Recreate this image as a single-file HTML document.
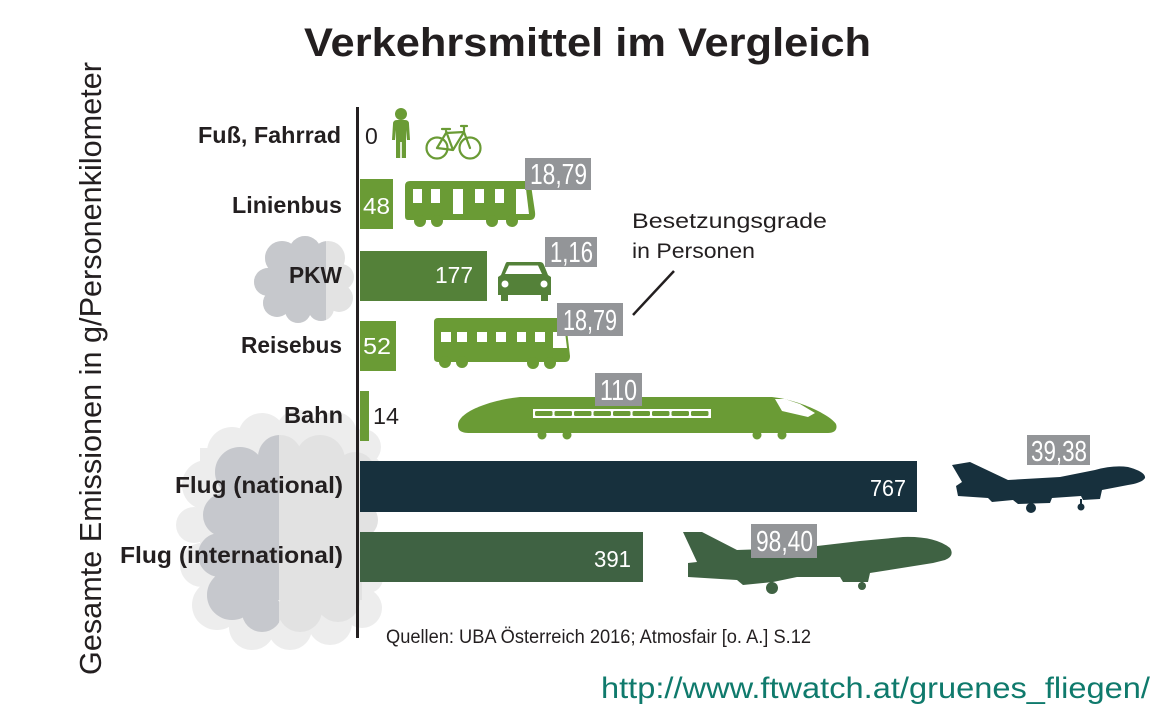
<!DOCTYPE html>
<html><head><meta charset="utf-8">
<style>html,body{margin:0;padding:0;background:#fff;}svg{display:block;}</style></head>
<body>
<svg width="1173" height="723" viewBox="0 0 1173 723" xmlns="http://www.w3.org/2000/svg" font-family="'Liberation Sans', sans-serif">
<defs>
<clipPath id="cA"><rect x="0" y="0" width="326" height="400"/></clipPath>
<clipPath id="cB"><rect x="0" y="400" width="279" height="323"/></clipPath>
<g id="pkwcloud">
<circle cx="282" cy="258" r="17"/><circle cx="305" cy="252" r="16"/><circle cx="328" cy="258" r="17"/>
<circle cx="341" cy="277" r="13"/><circle cx="339" cy="298" r="14"/><circle cx="321" cy="308" r="13"/>
<circle cx="298" cy="310" r="13"/><circle cx="277" cy="303" r="14"/><circle cx="268" cy="282" r="14"/>
<circle cx="305" cy="282" r="30"/>
</g>
<g id="inner">
<circle cx="240" cy="472" r="25"/><circle cx="280" cy="457" r="22"/><circle cx="320" cy="460" r="25"/>
<circle cx="355" cy="472" r="20"/><circle cx="225" cy="515" r="22"/><circle cx="220" cy="555" r="22"/>
<circle cx="232" cy="595" r="25"/><circle cx="262" cy="612" r="20"/><circle cx="300" cy="610" r="22"/>
<circle cx="338" cy="600" r="22"/><circle cx="360" cy="560" r="20"/><circle cx="360" cy="520" r="18"/>
<rect x="222" y="470" width="140" height="130"/>
</g>
</defs>

<!-- clouds -->
<use href="#pkwcloud" fill="#e3e3e3"/>
<use href="#pkwcloud" fill="#c6c8cc" clip-path="url(#cA)"/>

<g fill="#ededed">
<circle cx="232" cy="452" r="25"/><circle cx="262" cy="437" r="24"/><circle cx="298" cy="432" r="22"/>
<circle cx="335" cy="434" r="22"/><circle cx="363" cy="447" r="18"/><circle cx="207" cy="485" r="25"/>
<circle cx="194" cy="525" r="18"/><circle cx="202" cy="565" r="22"/><circle cx="217" cy="605" r="25"/>
<circle cx="252" cy="627" r="23"/><circle cx="290" cy="628" r="22"/><circle cx="330" cy="623" r="22"/>
<circle cx="362" cy="608" r="20"/><circle cx="368" cy="578" r="15"/><circle cx="367" cy="470" r="15"/>
<rect x="200" y="448" width="172" height="170"/>
</g>
<use href="#inner" fill="#e2e2e2"/>
<use href="#inner" fill="#c6c8cd" clip-path="url(#cB)"/>

<!-- title -->
<text x="304" y="56" font-size="40" font-weight="bold" fill="#231f20" textLength="567" lengthAdjust="spacingAndGlyphs">Verkehrsmittel im Vergleich</text>

<!-- y axis label -->
<text transform="translate(101,368.5) rotate(-90)" text-anchor="middle" font-size="31" fill="#231f20" textLength="613" lengthAdjust="spacingAndGlyphs">Gesamte Emissionen in g/Personenkilometer</text>

<!-- category labels -->
<g font-size="23" font-weight="bold" fill="#231f20">
<text x="198" y="143" textLength="143" lengthAdjust="spacingAndGlyphs">Fuß, Fahrrad</text>
<text x="232" y="213" textLength="110" lengthAdjust="spacingAndGlyphs">Linienbus</text>
<text x="289" y="283" textLength="53" lengthAdjust="spacingAndGlyphs">PKW</text>
<text x="241" y="353" textLength="101" lengthAdjust="spacingAndGlyphs">Reisebus</text>
<text x="284" y="423" textLength="59" lengthAdjust="spacingAndGlyphs">Bahn</text>
<text x="175" y="493" textLength="168" lengthAdjust="spacingAndGlyphs">Flug (national)</text>
<text x="120" y="563" textLength="223" lengthAdjust="spacingAndGlyphs">Flug (international)</text>
</g>

<!-- axis -->
<rect x="356" y="107" width="3" height="531" fill="#231f20"/>

<!-- bars -->
<rect x="360" y="179" width="33" height="50" fill="#6a9b35"/>
<rect x="360" y="251" width="127" height="50" fill="#548139"/>
<rect x="360" y="321" width="36" height="50" fill="#6a9b35"/>
<rect x="360" y="391" width="9" height="50" fill="#6a9b35"/>
<rect x="360" y="461" width="557" height="51" fill="#17303d"/>
<rect x="360" y="532" width="283" height="50" fill="#3f6243"/>

<!-- values -->
<g font-size="23">
<text x="365" y="144" fill="#231f20">0</text>
<text x="363" y="214" fill="#fff" textLength="27" lengthAdjust="spacingAndGlyphs">48</text>
<text x="435" y="283" fill="#fff" textLength="38" lengthAdjust="spacingAndGlyphs">177</text>
<text x="363" y="354" fill="#fff" textLength="28" lengthAdjust="spacingAndGlyphs">52</text>
<text x="373" y="424" fill="#231f20" textLength="26" lengthAdjust="spacingAndGlyphs">14</text>
<text x="870" y="496" fill="#fff" textLength="36" lengthAdjust="spacingAndGlyphs">767</text>
<text x="594" y="567" fill="#fff" textLength="37" lengthAdjust="spacingAndGlyphs">391</text>
</g>

<!-- person -->
<g fill="#6a9b35">
<circle cx="401" cy="114" r="6"/>
<path d="M393,124 Q393,120 397,120 L405,120 Q409,120 409,124 L410,140 L407,140 L406,130 L406,158 L401.8,158 L401.8,142 L400.2,142 L400.2,158 L396,158 L396,130 L395,140 L392,140 Z"/>
</g>
<!-- bicycle -->
<g fill="none" stroke="#6a9b35" stroke-width="2.2" stroke-linecap="round" stroke-linejoin="round">
<circle cx="437" cy="148" r="10.5"/><circle cx="470" cy="148" r="10.5"/>
<path d="M437,148 L453,150 L446,131 M446,133 L464,132 L453,150 M464,132 L470,148 M437,148 L446,133 M464,132 L464,126 M461,126 L467,126 M442,129 L450,129"/>
</g>

<!-- Linienbus -->
<g fill="#6a9b35">
<path d="M410,181 L527,181 Q530,181 531,185 L535,212 Q536,220 530,220 L408,220 Q405,220 405,216 L405,186 Q405,181 410,181 Z"/>
<circle cx="420" cy="221" r="6"/><circle cx="437" cy="221" r="6"/><circle cx="492" cy="221" r="6"/><circle cx="512" cy="221" r="6"/>
</g>
<g fill="#fff">
<rect x="413" y="189" width="9" height="14"/><rect x="431" y="189" width="9" height="14"/>
<rect x="453" y="189" width="10" height="25"/><rect x="475" y="189" width="9" height="14"/>
<rect x="495" y="189" width="9" height="14"/><polygon points="516,189 526,189 529,214 516,214"/>
</g>

<!-- car -->
<g fill="#548139">
<path d="M507,262 L540,262 Q543,262 544,265 L548,275 L551,277 L551,295 L548,295 L548,301 L541,301 L541,295 L508,295 L508,301 L501,301 L501,295 L498,295 L498,277 L501,275 L505,265 Q506,262 507,262 Z"/>
</g>
<g fill="#fff">
<polygon points="509,265.5 538,265.5 542,274 505,274"/>
<circle cx="505" cy="284" r="3.5"/><circle cx="544" cy="284" r="3.5"/>
</g>

<!-- Reisebus -->
<g fill="#6a9b35">
<path d="M438,318 L562,318 Q565,318 566,322 L570,356 Q570,362 565,362 L438,362 Q434,362 434,358 L434,322 Q434,318 438,318 Z"/>
<circle cx="445" cy="362" r="6"/><circle cx="462" cy="362" r="6"/><circle cx="533" cy="363" r="6"/><circle cx="550" cy="363" r="6"/>
</g>
<g fill="#fff">
<rect x="441" y="332" width="10" height="10"/><rect x="457" y="332" width="10" height="10"/>
<rect x="477" y="332" width="10" height="10"/><rect x="496" y="332" width="10" height="10"/>
<rect x="517" y="332" width="9" height="10"/><rect x="535" y="332" width="10" height="10"/>
<polygon points="553,332 565,332 567,348 553,348"/>
</g>

<!-- train -->
<g fill="#6a9b35">
<path d="M458,425 C458,412 490,400 520,397 L772,397 C800,400 830,415 836,424 C838,430 834,433 828,433 L470,433 C460,433 458,430 458,425 Z"/>
<circle cx="542" cy="435" r="4.5"/><circle cx="567" cy="435" r="4.5"/><circle cx="757" cy="435" r="4.5"/><circle cx="782" cy="435" r="4.5"/>
</g>
<rect x="533" y="409" width="178" height="9" fill="#fff"/>
<g fill="#6a9b35">
<rect x="535" y="411" width="17.5" height="5" rx="1.5"/><rect x="554.5" y="411" width="17.5" height="5" rx="1.5"/>
<rect x="574" y="411" width="17.5" height="5" rx="1.5"/><rect x="593.5" y="411" width="17.5" height="5" rx="1.5"/>
<rect x="613" y="411" width="17.5" height="5" rx="1.5"/><rect x="632.5" y="411" width="17.5" height="5" rx="1.5"/>
<rect x="652" y="411" width="17.5" height="5" rx="1.5"/><rect x="671.5" y="411" width="17.5" height="5" rx="1.5"/>
<rect x="691" y="411" width="17.5" height="5" rx="1.5"/>
</g>
<polygon points="775,399 782,411 808,417 815,413 800,404 785,399" fill="#fff"/>

<!-- plane national -->
<g fill="#17303d">
<path d="M952,465 L970,462 L1008,480 L1060,477 L1095,470 Q1113,465 1128,467 Q1146,472 1145,478 Q1142,483 1128,485 L1102,490 L1100,499 L1083,500 L1081,496 L1052,498 L1050,503 L1018,504 L1013,500 L992,502 L988,498 L958,496 L956,486 L962,482 Z"/>
<rect x="1029" y="500" width="3" height="6"/><circle cx="1031" cy="508" r="5"/>
<rect x="1080" y="499" width="2" height="6"/><circle cx="1081" cy="507" r="3.5"/>
</g>

<!-- plane international -->
<g fill="#3f6243">
<path d="M683,532 L702,532 L737,550 L800,548 L860,541 L903,537 Q935,536 950,548 Q955,556 945,560 L933,563 L870,573 L868,582 L843,582 L840,577 L797,577 L773,582 L743,585 L737,580 L688,577 L688,563 L697,562 Z"/>
<rect x="770" y="578" width="3" height="6"/><circle cx="772" cy="588" r="6"/>
<rect x="861" y="578" width="2" height="6"/><circle cx="862" cy="586" r="4"/>
</g>

<!-- occupancy boxes -->
<g fill="#939598">
<rect x="525" y="158" width="66" height="32"/>
<rect x="545" y="237" width="52" height="30"/>
<rect x="557" y="303" width="66" height="33"/>
<rect x="595" y="373" width="47" height="33"/>
<rect x="1027" y="435" width="63" height="30"/>
<rect x="751" y="524" width="66" height="34"/>
</g>
<g fill="#fff" font-size="29">
<text x="530" y="184" textLength="57" lengthAdjust="spacingAndGlyphs">18,79</text>
<text x="550" y="262" textLength="43" lengthAdjust="spacingAndGlyphs">1,16</text>
<text x="563" y="330" textLength="54" lengthAdjust="spacingAndGlyphs">18,79</text>
<text x="600" y="400" textLength="37" lengthAdjust="spacingAndGlyphs">110</text>
<text x="1031" y="461" textLength="56" lengthAdjust="spacingAndGlyphs">39,38</text>
<text x="756" y="551" textLength="57" lengthAdjust="spacingAndGlyphs">98,40</text>
</g>

<!-- annotation -->
<g fill="#231f20" font-size="21">
<text x="632" y="228" textLength="195" lengthAdjust="spacingAndGlyphs">Besetzungsgrade</text>
<text x="632" y="258" textLength="123" lengthAdjust="spacingAndGlyphs">in Personen</text>
</g>
<line x1="633" y1="315" x2="674" y2="271" stroke="#231f20" stroke-width="2.5"/>

<!-- sources -->
<text x="386" y="643" font-size="19" fill="#231f20" textLength="425" lengthAdjust="spacingAndGlyphs">Quellen: UBA Österreich 2016; Atmosfair [o. A.] S.12</text>
<text x="601" y="698" font-size="30" fill="#0f7a6c" textLength="549" lengthAdjust="spacingAndGlyphs">http://www.ftwatch.at/gruenes_fliegen/</text>
</svg>
</body></html>
